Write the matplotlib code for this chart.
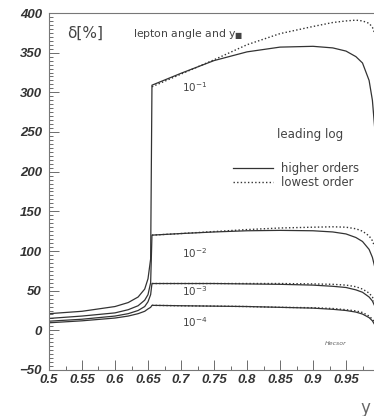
import numpy as np
import matplotlib
matplotlib.use("Agg")
import matplotlib.pyplot as plt
from matplotlib.ticker import MultipleLocator

# below the threshold (same for solid and dotted)
x_low = [0.5, 0.55, 0.6, 0.62, 0.635, 0.645, 0.65, 0.654]
low_1 = [21, 24, 30, 35, 42, 52, 65, 90]
low_2 = [15, 18, 22, 26, 31, 38, 45, 60]
low_3 = [11.5, 14, 18, 21, 25, 30, 36, 45]
low_4 = [9.5, 12, 15.5, 18, 21, 24, 27, 29]

# above the threshold
x_high = [0.656, 0.7, 0.75, 0.8, 0.85, 0.9, 0.93, 0.95, 0.965, 0.975, 0.985, 0.99, 0.995, 1.0]
ho_1 = [309, 324, 340, 351, 357, 358, 356, 352, 345, 337, 315, 290, 240, 150]
lo_1 = [307, 323, 341, 360, 374, 383, 388, 390, 391, 390, 387, 382, 371, 340]
ho_2 = [120, 122, 124, 125.5, 126, 125.5, 124, 121.5, 117, 112, 102, 92, 75, 50]
lo_2 = [120, 122, 124.5, 127, 129, 130, 130.5, 130, 128, 125, 119, 113, 102, 80]
ho_3 = [59, 59, 59, 58.5, 58, 57, 55.5, 54, 51, 48, 42, 37, 28, 15]
lo_3 = [59, 59, 59, 59, 59, 58.5, 58, 57, 55, 52, 47, 42, 33, 20]
ho_4 = [31.5, 31, 30.5, 30, 29, 28, 26.5, 25, 23, 20.5, 16, 12, 5, -5]
lo_4 = [31.5, 31, 30.5, 30, 29, 28.5, 27.5, 26, 24.5, 22.5, 18, 14, 8, 0]

curve_labels = [r"$10^{-1}$", r"$10^{-2}$", r"$10^{-3}$", r"$10^{-4}$"]
label_y = [306, 97, 50, 10]

ink = "#333333"
txt = "#444444"

fig = plt.figure(figsize=(3.74, 4.16), dpi=100)
ax = fig.add_axes([49 / 374, 1 - 370 / 416, 330 / 374, 357 / 416])

for low, ho, lo in [(low_1, ho_1, lo_1), (low_2, ho_2, lo_2),
                    (low_3, ho_3, lo_3), (low_4, ho_4, lo_4)]:
    h_solid, = ax.plot(x_low + x_high, low + ho, color=ink, lw=0.9)
    h_dot, = ax.plot(x_high, lo, color=ink, lw=1.0, linestyle=(0, (1, 1.6)))

ax.set_xlim(0.5, 1.0)
ax.set_ylim(-50, 400)

ax.xaxis.set_major_locator(MultipleLocator(0.05))
ax.xaxis.set_minor_locator(MultipleLocator(0.025))
ax.yaxis.set_major_locator(MultipleLocator(50))
ax.yaxis.set_minor_locator(MultipleLocator(5))
ax.set_xticks(np.arange(0.5, 0.951, 0.05))
ax.set_xticklabels(["0.5", "0.55", "0.6", "0.65", "0.7", "0.75", "0.8", "0.85", "0.9", "0.95"])
ax.tick_params(which="both", direction="in", colors="#555555", width=0.6,
               top=False, right=False)
ax.tick_params(which="major", length=7)
ax.tick_params(which="minor", length=3)
for lab in ax.get_xticklabels() + ax.get_yticklabels():
    lab.set_family("Liberation Sans")
    lab.set_fontweight("bold")
    lab.set_fontstyle("italic")
    lab.set_fontsize(9.5)
    lab.set_color(ink)
ax.tick_params(axis="x", pad=3)
ax.tick_params(axis="y", pad=5)
for sp in ax.spines.values():
    sp.set_color("#777777")
    sp.set_linewidth(0.8)

ax.set_xlabel("y", fontsize=12, color="#666666")
ax.xaxis.set_label_coords(0.96, -0.082)

ax.text(0.527, 374, "δ[%]", fontsize=11, color=txt, va="center")
ax.text(0.627, 373, r"lepton angle and y$_{\blacksquare}$", fontsize=7.8, color=txt, va="center")
ax.text(0.845, 247, "leading log", fontsize=8.6, color=txt, va="center")
for lab, yy in zip(curve_labels, label_y):
    ax.text(0.7015, yy, lab, fontsize=7.5, color=txt, va="center")
ax.text(0.918, -17, "Hecsor", fontsize=4.5, style="italic", color="#666666", va="center")

ax.legend([h_solid, h_dot], ["higher orders", "lowest order"],
          loc="upper left", bbox_to_anchor=(227 / 374, 1 - 156 / 416),
          bbox_transform=fig.transFigure, frameon=False, borderpad=0,
          fontsize=8.4, handlelength=3.4, handletextpad=0.7, labelspacing=0.12,
          labelcolor=txt)

fig.savefig("out.png", dpi=100)
